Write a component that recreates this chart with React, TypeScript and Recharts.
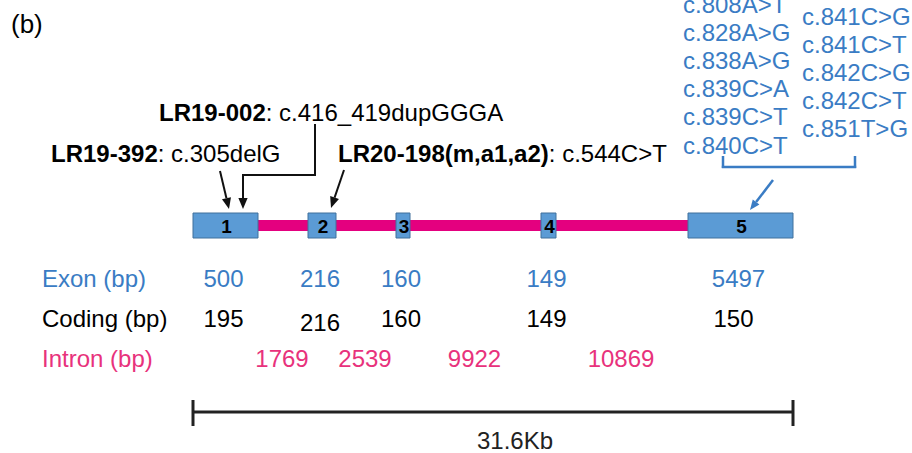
import {
  ScatterChart,
  Scatter,
  XAxis,
  YAxis,
  ReferenceArea,
  ReferenceLine,
} from "recharts";

// gene schematic (not to scale), x in diagram units
const exonLabels = ["1", "2", "3", "4", "5"];
const exonStart = [193, 308, 396, 541, 688];
const exonEnd = [258, 336, 410, 556, 793];

const exonBp = ["500", "216", "160", "149", "5497"];
const codingBp = ["195", "216", "160", "149", "150"];
const intronBp = ["1769", "2539", "9922", "10869"];
const geneLength = "31.6Kb";

const hotspotLeft = ["c.808A>T", "c.828A>G", "c.838A>G", "c.839C>A", "c.839C>T", "c.840C>T"];
const hotspotRight = ["c.841C>G", "c.841C>T", "c.842C>G", "c.842C>T", "c.851T>G"];

const variantIds = ["LR19-002", "LR19-392", "LR20-198(m,a1,a2)"];
const variantChanges = ["c.416_419dupGGGA", "c.305delG", "c.544C>T"];

const FONT = "'Liberation Sans', Arial, Helvetica, sans-serif";
const BLUE_TEXT = "#3a7cc4";
const PINK_TEXT = "#e8327c";
const PINK = "#e4007f";
const EXON_FILL = "#5b9bd5";
const EXON_EDGE = "#41719c";
const FS = 24;

const exonMid = exonStart.map((s, i) => (s + exonEnd[i]) / 2);
const intronMid = intronBp.map((_, i) => (exonEnd[i] + exonStart[i + 1]) / 2);

const textShape =
  (color: string, size: number, anchor = "middle", weight = "normal") =>
  (p: any) => (
    <text
      x={p.cx}
      y={p.cy}
      fill={color}
      fontSize={size}
      fontWeight={weight}
      fontFamily={FONT}
      textAnchor={anchor}
      dominantBaseline="central"
    >
      {p.payload.label}
    </text>
  );

const variantShape = (p: any) => (
  <text x={p.cx} y={p.cy} fontSize={FS} fontFamily={FONT} fill="#000" dominantBaseline="central">
    <tspan fontWeight="bold">{p.payload.id}</tspan>
    <tspan>: {p.payload.change}</tspan>
  </text>
);

const arrowShape = (color: string, width: number, head: number) => (p: any) => {
  const { x1, y1, x2, y2 } = p;
  const dx = x2 - x1;
  const dy = y2 - y1;
  const len = Math.hypot(dx, dy) || 1;
  const ux = dx / len;
  const uy = dy / len;
  const bx = x2 - ux * head;
  const by = y2 - uy * head;
  const hw = head * 0.42;
  return (
    <g>
      <line x1={x1} y1={y1} x2={bx} y2={by} stroke={color} strokeWidth={width} />
      <polygon
        points={`${x2},${y2} ${bx - uy * hw},${by + ux * hw} ${bx + uy * hw},${by - ux * hw}`}
        fill={color}
      />
    </g>
  );
};

export default function App() {
  const rowExonY = 278;
  const rowCodingY = 318;
  const rowIntronY = 358;

  const exonNumData = exonLabels.map((label, i) => ({ x: exonMid[i] + 1, y: 226, label }));
  const exonBpData = exonBp.map((label, i) => ({ x: exonMid[i] - 2, y: rowExonY, label }));
  const codingData = codingBp.map((label, i) => ({
    x: exonMid[i] - 2 - (i === 4 ? 5 : 0),
    y: rowCodingY + (i === 1 ? 4 : 0),
    label,
  }));
  const intronData = intronBp.map((label, i) => ({ x: intronMid[i] - 1, y: rowIntronY, label }));
  const headerData = [
    { x: 42, y: rowExonY, label: "Exon (bp)", color: BLUE_TEXT },
    { x: 42, y: rowCodingY, label: "Coding (bp)", color: "#000" },
    { x: 42, y: rowIntronY, label: "Intron (bp)", color: PINK_TEXT },
  ];
  const hotLeftData = hotspotLeft.map((label, i) => ({ x: 683, y: 4 + i * 28.2, label }));
  const hotRightData = hotspotRight.map((label, i) => ({ x: 802, y: 16 + i * 28.2, label }));
  const variantData = [
    { x: 159, y: 112, id: variantIds[0], change: variantChanges[0] },
    { x: 51, y: 153, id: variantIds[1], change: variantChanges[1] },
    { x: 338, y: 153, id: variantIds[2], change: variantChanges[2] },
  ];

  const barL = exonStart[0];
  const barR = exonEnd[4];

  return (
    <div style={{ position: "absolute", left: 0, top: 0, background: "#fff" }}>
      <ScatterChart width={912} height={453} margin={{ top: 0, right: 0, bottom: 0, left: 0 }}>
        <XAxis type="number" dataKey="x" domain={[0, 912]} hide />
        <YAxis type="number" dataKey="y" domain={[0, 453]} reversed hide />

        {/* intron backbone */}
        <ReferenceArea x1={barL} x2={barR} y1={220} y2={231} fill={PINK} fillOpacity={1} stroke="none" />
        {exonStart.map((s, i) => (
          <ReferenceArea
            key={`exon-${i}`}
            x1={s}
            x2={exonEnd[i]}
            y1={213}
            y2={238}
            fill={EXON_FILL}
            fillOpacity={1}
            stroke={EXON_EDGE}
            strokeWidth={1}
          />
        ))}

        {/* variant pointers */}
        <ReferenceLine
          segment={[{ x: 220, y: 171 }, { x: 229, y: 209 }]}
          shape={arrowShape("#111", 2, 11)}
        />
        <ReferenceLine segment={[{ x: 315, y: 124 }, { x: 315, y: 175 }]} stroke="#111" strokeWidth={2} />
        <ReferenceLine segment={[{ x: 316, y: 175 }, { x: 242, y: 175 }]} stroke="#111" strokeWidth={2} />
        <ReferenceLine
          segment={[{ x: 243, y: 174 }, { x: 243, y: 209 }]}
          shape={arrowShape("#111", 2, 11)}
        />
        <ReferenceLine
          segment={[{ x: 344, y: 170 }, { x: 331, y: 208 }]}
          shape={arrowShape("#111", 2, 11)}
        />

        {/* hotspot bracket */}
        <ReferenceLine segment={[{ x: 723, y: 156 }, { x: 723, y: 168 }]} stroke={BLUE_TEXT} strokeWidth={2.5} />
        <ReferenceLine segment={[{ x: 721.8, y: 167 }, { x: 856.2, y: 167 }]} stroke={BLUE_TEXT} strokeWidth={2.5} />
        <ReferenceLine segment={[{ x: 855, y: 156 }, { x: 855, y: 168 }]} stroke={BLUE_TEXT} strokeWidth={2.5} />
        <ReferenceLine
          segment={[{ x: 773, y: 180 }, { x: 750, y: 210 }]}
          shape={arrowShape(BLUE_TEXT, 2.5, 10)}
        />

        {/* length scale bar */}
        <ReferenceLine segment={[{ x: barL, y: 412 }, { x: barR, y: 412 }]} stroke="#222" strokeWidth={3} />
        <ReferenceLine segment={[{ x: barL, y: 400 }, { x: barL, y: 426 }]} stroke="#222" strokeWidth={3} />
        <ReferenceLine segment={[{ x: barR, y: 400 }, { x: barR, y: 426 }]} stroke="#222" strokeWidth={3} />

        <Scatter data={exonNumData} shape={textShape("#000", 19, "middle", "bold")} isAnimationActive={false} />
        <Scatter data={exonBpData} shape={textShape(BLUE_TEXT, FS)} isAnimationActive={false} />
        <Scatter data={codingData} shape={textShape("#000", FS)} isAnimationActive={false} />
        <Scatter data={intronData} shape={textShape(PINK_TEXT, FS)} isAnimationActive={false} />
        <Scatter
          data={headerData}
          shape={(p: any) => textShape(p.payload.color, FS, "start")(p)}
          isAnimationActive={false}
        />
        <Scatter data={hotLeftData} shape={textShape(BLUE_TEXT, FS, "start")} isAnimationActive={false} />
        <Scatter data={hotRightData} shape={textShape(BLUE_TEXT, FS, "start")} isAnimationActive={false} />
        <Scatter data={variantData} shape={variantShape} isAnimationActive={false} />
        <Scatter
          data={[{ x: 11, y: 24, label: "(b)" }]}
          shape={textShape("#000", 26, "start")}
          isAnimationActive={false}
        />
        <Scatter
          data={[{ x: (barL + barR) / 2 + 22, y: 440, label: geneLength }]}
          shape={textShape("#222", FS)}
          isAnimationActive={false}
        />
      </ScatterChart>
    </div>
  );
}
